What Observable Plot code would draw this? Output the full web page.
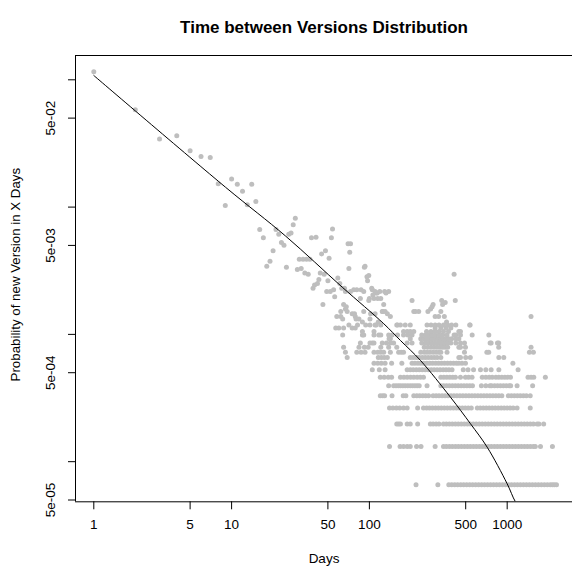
<!DOCTYPE html>
<html>
<head>
<meta charset="utf-8">
<script src="https://cdn.jsdelivr.net/npm/d3@7"></script>
<script src="https://cdn.jsdelivr.net/npm/@observablehq/plot@0.6"></script>
<style>
  html, body { margin: 0; padding: 0; background: white; }
</style>
</head>
<body>
<div id="chart"></div>
<script>
const titleText = "Time between Versions Distribution";
const xLabel = "Days";
const yLabel = "Probability of new Version in X Days";

const xTicks = [1, 5, 10, 50, 100, 500, 1000];
const yTicks = [1e-1, 5e-2, 1e-2, 5e-3, 1e-3, 5e-4, 1e-4, 5e-5];
const yTickLabels = [5e-2, 5e-3, 5e-4, 5e-5];

// total number of observed version intervals (1 observation = lowest row)
const total = 15170;

// sparse points: day and number of observations
const upperDays = [1,2,3,4,5,6,7,8,9,10,11,12,13,14,15,16,17,18,19,20,21,22,23,24,25,26,27,28,29,
  30,31,32,33,34,35,36,37,38,39,40,41,42,43,44,45,46,47,48,49,50,51,52,53,54,55,56,58,59,
  61,62,63,65,66,67,68,70,71,72,73,75,77,78,79,80,81,84,87,89,91,92,93,96,97,99,100,101,102,
  104,105,106,108,110,112,114,115,119,124,125,127,129,130,132,135,142,
  204,210,216,228,266,278,285,290,300,318,330,340,350,355,335,363,412,420,1490,
  62,69,86,99,121,67,73,91,110,138,64,116];
const upperCounts = [1755,883,519,552,421,379,372,231,156,252,229,202,158,229,168,101,87,52,57,69,101,93,80,76,51,93,95,110,124,
  49,59,50,59,46,59,45,59,87,35,37,88,38,41,46,65,26,45,69,33,40,60,33,87,102,34,30,21,42,
  38,21,35,26,35,24,25,78,50,67,78,22,34,22,21,20,34,20,34,19,23,51,52,43,40,44,29,20,22,
  35,34,31,29,22,32,32,29,33,23,23,26,33,23,32,22,21,
  28,23,23,23,23,24,25,26,21,21,23,26,21,27,28,19,45,28,21,
  23,23,29,28,29,33,33,33,33,33,20,19];

// discrete rows of low counts: count level and the days observed at that level
const rowCounts = [1,2,3,4,5,6,7,8,9,10,11,12,13,14,15,16,17,18];
const rowDays = [
  [218,314,377,396,416,437,460,483,508,534,561,590,620,652,685,720,757,796,837,880,925,972,1022,1074,1129,1187,1248,1312,1379,1450,1524,1602,1684,1770,1861,1956,2056,2130,2200,2280],
  [140,167,177,188,198,220,237,300,345,362,381,400,421,442,465,489,514,540,568,597,628,660,694,730,767,807,848,892,938,986,1037,1090,1146,1205,1267,1332,1400,1472,1548,1600,1745,2130],
  [158,163,168,188,198,224,277,290,305,320,345,362,381,400,421,442,465,489,514,540,568,597,628,660,694,730,767,807,848,892,938,986,1037,1090,1146,1205,1267,1332,1400,1472,1548,1650,1700,1840],
  [140,148,157,166,177,188,224,247,260,273,287,302,317,333,350,368,387,407,428,450,473,497,522,549,607,638,671,705,741,779,819,861,905,951,1000,1051,1105,1180,1470],
  [120,125,129,146,176,184,210,221,232,244,256,269,290,305,320,337,354,372,391,411,432,454,477,502,528,555,583,613,645,678,713,750,788,828,870,915,1020,1072,1127,1185,1245,1310,1377,1470],
  [138,150,156,162,168,175,182,190,198,206,214,222,230,262,330,346,363,381,400,420,441,463,486,510,535,560,650,700,750,770,810,850,893,938,985,1035,1060,1180,1530],
  [120,128,137,145,168,178,188,199,210,222,234,247,330,347,365,384,403,421,458,498,525,556,659,700,740,779,828,870,915,962,1010,1057,1416,1490,1560,1893],
  [105,118,130,188,198,208,219,230,242,254,267,281,295,310,326,343,360,378,398,480,520,570,640,700,765,870,1200],
  [108,115,122,130,145,172,204,214,225,236,248,261,274,288,303,318,334,351,369,388,408,428,446,470,498,1100],
  [69,116,122,128,135,198,208,219,230,242,254,267,281,295,310,330,446,458,500,540,870,945],
  [67,81,87,93,108,115,121,127,142,163,170,177,236,250,262,275,290,305,320,330,366,490,712,735,1450,1550],
  [65,84,92,98,121,138,158,250,265,280,295,310,325,340,355,370,446,458,498,868,1490],
  [86,101,105,108,124,133,142,150,188,204,240,255,270,285,300,318,335,352,370,390,424,458,490,752,765,850,868],
  [139,142,198,236,249,262,275,285,300,315,330,345,360,375,395,424,446],
  [64,89,91,108,117,121,138,146,160,177,190,204,240,255,270,285,300,320,340,366,412,424,458,557,736],
  [89,108,177,188,198,210,260,280,300,320,345,375,446,458],
  [57,60,65,75,79,300,330,360,390],
  [71,82,94,101,110,112,121,158,160,168,182,198,262,280,300,320,345,370,395,424,535,538]
];

// fitted curve
const curveDays = [1, 9.03, 24.7, 63.5, 127.2, 168.2, 234.9, 387.8, 541.7, 715.9, 1000, 1148, 1291];
const curveProbs = [0.1081, 0.01433, 0.00591, 0.00235, 0.001212, 0.000895, 0.000624, 0.000321, 0.0001985, 0.00013, 6.705e-5, 4.84e-5, 4.1e-5];

const points = [];
upperDays.forEach((d, i) => points.push({day: d, p: upperCounts[i] / total}));
rowCounts.forEach((c, i) => rowDays[i].forEach(d => points.push({day: d, p: c / total})));
const curve = curveDays.map((d, i) => ({day: d, p: curveProbs[i]}));

const xDomain = [0.7365, 2979];
const yDomain = [4.84e-5, 0.1552];

const fmtY = d => {
  const e = Math.floor(Math.log10(d) + 1e-9);
  const m = Math.round(d / Math.pow(10, e));
  return m + "e-" + String(-e).padStart(2, "0");
};

const chart = Plot.plot({
  width: 572,
  height: 569,
  marginLeft: 75,
  marginRight: 0,
  marginTop: 55,
  marginBottom: 67.7,
  x: {type: "log", domain: xDomain},
  y: {type: "log", domain: yDomain},
  style: {fontFamily: "'Liberation Sans', Arial, Helvetica, sans-serif", background: "white", color: "black"},
  marks: [
    Plot.dot(points, {x: "day", y: "p", r: 2.5, fill: "#bebebe", stroke: "none"}),
    Plot.line(curve, {x: "day", y: "p", stroke: "black", strokeWidth: 1, curve: "catmull-rom", clip: true}),
    Plot.ruleY([yDomain[0]], {stroke: "black", strokeWidth: 1}),
    Plot.ruleY([yDomain[1]], {stroke: "black", strokeWidth: 1}),
    Plot.ruleX([xDomain[0]], {stroke: "black", strokeWidth: 1}),
    Plot.axisX({ticks: xTicks, tickSize: 8, tickFormat: () => "", label: null}),
    Plot.axisY({ticks: yTicks, tickSize: 7, tickFormat: () => "", label: null}),
    Plot.text(xTicks, {x: d => d, frameAnchor: "bottom", dy: 27, text: d => String(d), fontSize: 13.5, textAnchor: "middle"}),
    Plot.text(yTickLabels, {y: d => d, frameAnchor: "left", dx: -25, rotate: -90, text: fmtY, fontSize: 13.5, textAnchor: "middle"}),
    Plot.text([yLabel], {frameAnchor: "left", dx: -60, dy: -4, rotate: -90, text: d => d, fontSize: 13.3, textAnchor: "middle"}),
    Plot.text([xLabel], {frameAnchor: "bottom", dy: 61, text: d => d, fontSize: 13.5, textAnchor: "middle"}),
    Plot.text([titleText], {frameAnchor: "top", dy: -35, text: d => d, fontSize: 17, fontWeight: "bold", textAnchor: "middle"})
  ]
});
document.getElementById("chart").appendChild(chart);
</script>
</body>
</html>
